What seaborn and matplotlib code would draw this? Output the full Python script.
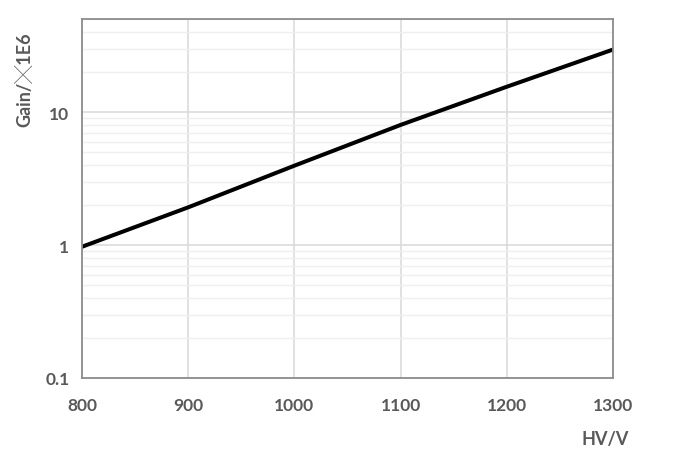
import matplotlib
matplotlib.use("Agg")
import matplotlib.pyplot as plt
import matplotlib.ticker as mticker
import pandas as pd
import seaborn as sns

# HV (V) vs gain (x1E6)
hv = [800, 900, 1000, 1100, 1200, 1300]
gain = [0.97, 1.92, 3.95, 8.0, 15.5, 29.5]
x_ticks = [800, 900, 1000, 1100, 1200, 1300]
y_ticks = [0.1, 1, 10]
y_tick_labels = ["0.1", "1", "10"]

df = pd.DataFrame({"hv": hv, "gain": gain})

sns.set_style("white")
plt.rcParams['font.family'] = ['Lato', 'Noto Sans CJK SC', 'DejaVu Sans']

text_col = '#595959'
fig = plt.figure(figsize=(6.73, 4.56), dpi=100)
ax = fig.add_axes([0.1218, 0.1689, 0.789, 0.787])

sns.lineplot(data=df, x="hv", y="gain", ax=ax, color='black', linewidth=2.9)

ax.set_yscale('log')
ax.set_xlim(800, 1300)
ax.set_ylim(0.1, 50)
ax.set_xticks(x_ticks)
ax.set_xticklabels([str(t) for t in x_ticks])
ax.set_yticks(y_ticks)
ax.set_yticklabels(y_tick_labels)
ax.yaxis.set_minor_locator(mticker.LogLocator(base=10, subs=range(2, 10)))
ax.yaxis.set_minor_formatter(mticker.NullFormatter())

ax.grid(True, which='major', color='#d9d9d9', linewidth=1.1)
ax.grid(True, which='minor', axis='y', color='#efefef', linewidth=1.0)
ax.set_axisbelow(True)

for s in ax.spines.values():
    s.set_color('#8c8c8c')
    s.set_linewidth(1.3)

ax.tick_params(which='both', length=0)
ax.tick_params(axis='x', pad=14)
ax.tick_params(axis='y', pad=9)
for lab in ax.get_xticklabels() + ax.get_yticklabels():
    lab.set_fontsize(12.5)
    lab.set_fontweight('bold')
    lab.set_color(text_col)

ax.set_xlabel("HV/V", fontsize=13, fontweight='bold', color=text_col)
ax.xaxis.set_label_coords(0.985, -0.145)
ax.set_ylabel("Gain/╳1E6", fontsize=13, fontweight='bold', color=text_col)
ax.yaxis.set_label_coords(-0.092, 0.833)

fig.savefig("out.png", dpi=100)
